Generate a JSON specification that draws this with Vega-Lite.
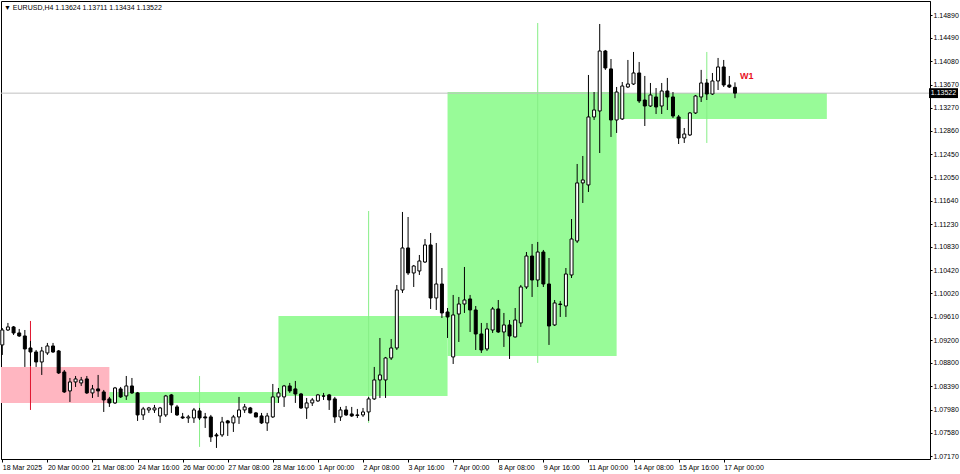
{
  "$schema": "https://vega.github.io/schema/vega-lite/v6.json",
  "width": 929,
  "height": 458,
  "autosize": {"type": "none"},
  "padding": {"left": 1, "top": 1, "right": 30, "bottom": 15},
  "background": "white",
  "title": {"text": "▼ EURUSD,H4  1.13624 1.13711 1.13434 1.13522", "anchor": "start", "frame": "group", "orient": "top", "offset": -10, "dx": 3, "font": "Liberation Sans", "fontSize": 7, "fontWeight": "normal", "color": "black"},
  "config": {
    "view": {"stroke": "black", "strokeWidth": 1},
    "scale": {"continuousPadding": 0},
    "axis": {"grid": false, "labelFont": "Liberation Sans", "labelFontSize": 7, "labelColor": "black", "tickColor": "black", "domainColor": "black", "title": null, "labelOverlap": false, "labelFlush": false, "labelBound": false}
  },
  "datasets": {
    "weeks": [
      {"x0": -0.2307, "x1": 19, "lo": 1.08099, "hi": 1.08729, "m": 5, "wl": 1.07976, "wh": 1.09534, "kind": "bear"},
      {"x0": 19, "x1": 49, "lo": 1.08099, "hi": 1.08291, "m": 35, "wl": 1.07329, "wh": 1.08571, "kind": "bull"},
      {"x0": 49, "x1": 79, "lo": 1.08221, "hi": 1.09621, "m": 65, "wl": 1.07749, "wh": 1.11459, "kind": "bull"},
      {"x0": 79, "x1": 109, "lo": 1.08921, "hi": 1.13542, "m": 95, "wl": 1.08799, "wh": 1.14750, "kind": "bull"},
      {"x0": 109, "x1": 146.3, "lo": 1.13070, "hi": 1.13525, "m": 125, "wl": 1.12650, "wh": 1.14243, "kind": "bull"}
    ],
    "candles": [
      {"i":0,"o":1.09114,"h":1.09411,"l":1.08939,"c":1.09376},
      {"i":1,"o":1.09376,"h":1.09499,"l":1.09359,"c":1.09429},
      {"i":2,"o":1.09429,"h":1.09446,"l":1.09289,"c":1.09324},
      {"i":3,"o":1.09324,"h":1.09394,"l":1.09254,"c":1.09271},
      {"i":4,"o":1.09271,"h":1.09376,"l":1.08729,"c":1.09044},
      {"i":5,"o":1.09061,"h":1.09184,"l":1.08746,"c":1.08991},
      {"i":6,"o":1.08991,"h":1.09026,"l":1.08729,"c":1.08816},
      {"i":7,"o":1.08816,"h":1.09079,"l":1.08589,"c":1.09009},
      {"i":8,"o":1.08974,"h":1.09149,"l":1.08939,"c":1.09096},
      {"i":9,"o":1.09096,"h":1.09149,"l":1.08974,"c":1.08991},
      {"i":10,"o":1.09009,"h":1.09026,"l":1.08606,"c":1.08624},
      {"i":11,"o":1.08641,"h":1.08676,"l":1.08274,"c":1.08291},
      {"i":12,"o":1.08309,"h":1.08536,"l":1.08116,"c":1.08466},
      {"i":13,"o":1.08466,"h":1.08571,"l":1.08379,"c":1.08519},
      {"i":14,"o":1.08449,"h":1.08554,"l":1.08396,"c":1.08501},
      {"i":15,"o":1.08519,"h":1.08571,"l":1.08256,"c":1.08274},
      {"i":16,"o":1.08274,"h":1.08414,"l":1.08186,"c":1.08344},
      {"i":17,"o":1.08344,"h":1.08589,"l":1.08204,"c":1.08309},
      {"i":18,"o":1.08291,"h":1.08326,"l":1.07941,"c":1.08151},
      {"i":19,"o":1.08169,"h":1.08204,"l":1.08029,"c":1.08099},
      {"i":20,"o":1.08099,"h":1.08379,"l":1.08081,"c":1.08361},
      {"i":21,"o":1.08344,"h":1.08379,"l":1.08186,"c":1.08204},
      {"i":22,"o":1.08221,"h":1.08571,"l":1.08151,"c":1.08396},
      {"i":23,"o":1.08396,"h":1.08536,"l":1.08256,"c":1.08274},
      {"i":24,"o":1.08274,"h":1.08291,"l":1.07784,"c":1.07889},
      {"i":25,"o":1.07889,"h":1.08029,"l":1.07801,"c":1.07994},
      {"i":26,"o":1.07976,"h":1.08029,"l":1.07924,"c":1.08011},
      {"i":27,"o":1.07976,"h":1.08064,"l":1.07924,"c":1.08011},
      {"i":28,"o":1.07871,"h":1.08029,"l":1.07749,"c":1.08011},
      {"i":29,"o":1.07889,"h":1.08239,"l":1.07854,"c":1.08221},
      {"i":30,"o":1.08239,"h":1.08256,"l":1.07924,"c":1.08064},
      {"i":31,"o":1.08029,"h":1.08064,"l":1.07871,"c":1.07889},
      {"i":32,"o":1.07854,"h":1.07924,"l":1.07819,"c":1.07836},
      {"i":33,"o":1.07836,"h":1.07889,"l":1.07749,"c":1.07854},
      {"i":34,"o":1.07836,"h":1.08011,"l":1.07749,"c":1.07976},
      {"i":35,"o":1.07959,"h":1.08011,"l":1.07801,"c":1.07836},
      {"i":36,"o":1.07854,"h":1.07924,"l":1.07661,"c":1.07836},
      {"i":37,"o":1.07854,"h":1.07889,"l":1.07416,"c":1.07504},
      {"i":38,"o":1.07539,"h":1.07574,"l":1.07311,"c":1.07521},
      {"i":39,"o":1.07539,"h":1.07854,"l":1.07504,"c":1.07766},
      {"i":40,"o":1.07784,"h":1.07801,"l":1.07521,"c":1.07749},
      {"i":41,"o":1.07749,"h":1.07889,"l":1.07591,"c":1.07854},
      {"i":42,"o":1.07854,"h":1.08204,"l":1.07731,"c":1.07976},
      {"i":43,"o":1.07976,"h":1.08081,"l":1.07924,"c":1.08029},
      {"i":44,"o":1.08011,"h":1.08029,"l":1.07915,"c":1.07924},
      {"i":45,"o":1.07924,"h":1.07941,"l":1.07845,"c":1.07854},
      {"i":46,"o":1.07871,"h":1.07924,"l":1.07731,"c":1.07749},
      {"i":47,"o":1.07749,"h":1.07924,"l":1.07609,"c":1.07871},
      {"i":48,"o":1.07854,"h":1.08431,"l":1.07836,"c":1.08204},
      {"i":49,"o":1.08204,"h":1.08361,"l":1.08099,"c":1.08274},
      {"i":50,"o":1.08204,"h":1.08414,"l":1.08029,"c":1.08396},
      {"i":51,"o":1.08396,"h":1.08449,"l":1.08274,"c":1.08309},
      {"i":52,"o":1.08344,"h":1.08484,"l":1.08099,"c":1.08256},
      {"i":53,"o":1.08256,"h":1.08274,"l":1.07994,"c":1.08011},
      {"i":54,"o":1.08011,"h":1.08186,"l":1.07819,"c":1.08099},
      {"i":55,"o":1.08099,"h":1.08186,"l":1.08046,"c":1.08151},
      {"i":56,"o":1.08134,"h":1.08256,"l":1.08116,"c":1.08239},
      {"i":57,"o":1.08221,"h":1.08274,"l":1.08151,"c":1.08218},
      {"i":58,"o":1.08239,"h":1.08256,"l":1.07976,"c":1.08151},
      {"i":59,"o":1.08169,"h":1.08204,"l":1.07749,"c":1.07854},
      {"i":60,"o":1.07854,"h":1.08029,"l":1.07784,"c":1.07976},
      {"i":61,"o":1.07976,"h":1.08046,"l":1.07871,"c":1.07889},
      {"i":62,"o":1.07906,"h":1.08029,"l":1.07854,"c":1.07871},
      {"i":63,"o":1.07889,"h":1.07994,"l":1.07836,"c":1.07880},
      {"i":64,"o":1.07889,"h":1.08011,"l":1.07854,"c":1.07941},
      {"i":65,"o":1.07941,"h":1.08204,"l":1.07784,"c":1.08169},
      {"i":66,"o":1.08169,"h":1.08729,"l":1.08151,"c":1.08501},
      {"i":67,"o":1.08501,"h":1.09236,"l":1.08186,"c":1.08589},
      {"i":68,"o":1.08501,"h":1.08904,"l":1.08186,"c":1.08886},
      {"i":69,"o":1.08886,"h":1.09219,"l":1.08851,"c":1.09061},
      {"i":70,"o":1.09061,"h":1.10164,"l":1.09026,"c":1.10076},
      {"i":71,"o":1.10076,"h":1.11442,"l":1.10024,"c":1.10812},
      {"i":72,"o":1.10812,"h":1.11354,"l":1.10339,"c":1.10374},
      {"i":73,"o":1.10374,"h":1.10514,"l":1.10129,"c":1.10496},
      {"i":74,"o":1.10409,"h":1.10689,"l":1.10339,"c":1.10584},
      {"i":75,"o":1.10566,"h":1.10969,"l":1.10549,"c":1.10864},
      {"i":76,"o":1.10864,"h":1.11074,"l":1.09744,"c":1.09936},
      {"i":77,"o":1.09936,"h":1.10899,"l":1.09726,"c":1.10181},
      {"i":78,"o":1.10181,"h":1.10461,"l":1.09586,"c":1.09674},
      {"i":79,"o":1.09691,"h":1.09761,"l":1.09236,"c":1.09604},
      {"i":80,"o":1.08904,"h":1.09989,"l":1.08781,"c":1.09639},
      {"i":81,"o":1.09656,"h":1.09954,"l":1.09166,"c":1.09831},
      {"i":82,"o":1.09831,"h":1.10479,"l":1.09674,"c":1.09901},
      {"i":83,"o":1.09919,"h":1.09989,"l":1.09341,"c":1.09726},
      {"i":84,"o":1.09726,"h":1.09796,"l":1.09026,"c":1.09306},
      {"i":85,"o":1.09306,"h":1.09499,"l":1.08974,"c":1.09026},
      {"i":86,"o":1.09044,"h":1.09499,"l":1.09009,"c":1.09394},
      {"i":87,"o":1.09376,"h":1.09779,"l":1.09324,"c":1.09744},
      {"i":88,"o":1.09744,"h":1.09901,"l":1.09324,"c":1.09341},
      {"i":89,"o":1.09341,"h":1.09674,"l":1.09079,"c":1.09464},
      {"i":90,"o":1.09464,"h":1.09551,"l":1.08869,"c":1.09271},
      {"i":91,"o":1.09254,"h":1.09761,"l":1.09245,"c":1.09551},
      {"i":92,"o":1.09499,"h":1.10164,"l":1.09429,"c":1.10129},
      {"i":93,"o":1.10129,"h":1.10741,"l":1.10094,"c":1.10671},
      {"i":94,"o":1.10671,"h":1.10882,"l":1.09954,"c":1.10251},
      {"i":95,"o":1.10251,"h":1.10917,"l":1.10129,"c":1.10741},
      {"i":96,"o":1.10741,"h":1.10777,"l":1.10129,"c":1.10181},
      {"i":97,"o":1.10181,"h":1.10636,"l":1.09114,"c":1.09446},
      {"i":98,"o":1.09464,"h":1.09901,"l":1.09446,"c":1.09849},
      {"i":99,"o":1.09831,"h":1.09884,"l":1.09604,"c":1.09822},
      {"i":100,"o":1.09796,"h":1.10461,"l":1.09604,"c":1.10356},
      {"i":101,"o":1.10339,"h":1.11319,"l":1.10286,"c":1.10969},
      {"i":102,"o":1.10934,"h":1.12282,"l":1.10899,"c":1.11950},
      {"i":103,"o":1.11950,"h":1.12422,"l":1.11599,"c":1.12002},
      {"i":104,"o":1.11915,"h":1.13840,"l":1.11792,"c":1.13105},
      {"i":105,"o":1.13105,"h":1.13542,"l":1.13052,"c":1.13227},
      {"i":106,"o":1.13210,"h":1.14733,"l":1.12474,"c":1.14260},
      {"i":107,"o":1.14260,"h":1.14278,"l":1.13929,"c":1.13963},
      {"i":108,"o":1.13946,"h":1.14120,"l":1.12755,"c":1.13052},
      {"i":109,"o":1.13052,"h":1.13630,"l":1.12825,"c":1.13542},
      {"i":110,"o":1.13070,"h":1.13717,"l":1.13052,"c":1.13647},
      {"i":111,"o":1.13630,"h":1.14103,"l":1.13612,"c":1.13682},
      {"i":112,"o":1.13682,"h":1.14243,"l":1.13665,"c":1.13875},
      {"i":113,"o":1.13875,"h":1.14068,"l":1.13350,"c":1.13385},
      {"i":114,"o":1.13402,"h":1.13823,"l":1.12947,"c":1.13297},
      {"i":115,"o":1.13297,"h":1.13700,"l":1.13280,"c":1.13490},
      {"i":116,"o":1.13455,"h":1.13612,"l":1.13157,"c":1.13280},
      {"i":117,"o":1.13297,"h":1.13700,"l":1.13157,"c":1.13560},
      {"i":118,"o":1.13560,"h":1.13788,"l":1.13227,"c":1.13455},
      {"i":119,"o":1.13455,"h":1.13542,"l":1.13087,"c":1.13122},
      {"i":120,"o":1.13105,"h":1.13140,"l":1.12632,"c":1.12737},
      {"i":121,"o":1.12737,"h":1.12912,"l":1.12650,"c":1.12807},
      {"i":122,"o":1.12790,"h":1.13192,"l":1.12772,"c":1.13175},
      {"i":123,"o":1.13175,"h":1.13490,"l":1.13157,"c":1.13472},
      {"i":124,"o":1.13455,"h":1.13929,"l":1.13367,"c":1.13700},
      {"i":125,"o":1.13700,"h":1.13770,"l":1.13402,"c":1.13507},
      {"i":126,"o":1.13507,"h":1.13875,"l":1.13490,"c":1.13735},
      {"i":127,"o":1.13735,"h":1.14138,"l":1.13577,"c":1.13980},
      {"i":128,"o":1.13980,"h":1.14103,"l":1.13630,"c":1.13665},
      {"i":129,"o":1.13665,"h":1.13823,"l":1.13612,"c":1.13630},
      {"i":130,"o":1.13624,"h":1.13711,"l":1.13434,"c":1.13522}
    ]
  },
  "layer": [
    {
      "data": {"name": "weeks"},
      "mark": {"type": "rect"},
      "encoding": {
        "x": {"field": "x0", "type": "quantitative", "scale": {"domain": [-0.2307, 164.603], "nice": false, "zero": false, "padding": 0},
          "axis": {"values": [0,8,16,24,32,40,48,56,64,72,80,88,96,104,112,120,128], "tickCount": 40, "labelExpr": "['18 Mar 2025','20 Mar 00:00','21 Mar 08:00','24 Mar 16:00','26 Mar 00:00','27 Mar 08:00','28 Mar 16:00','1 Apr 00:00','2 Apr 08:00','3 Apr 16:00','7 Apr 00:00','8 Apr 08:00','9 Apr 16:00','11 Apr 00:00','14 Apr 08:00','15 Apr 16:00','17 Apr 00:00'][round(datum.value/8)]", "labelAlign": "left", "labelPadding": 1, "labelOverlap": false, "labelFlush": false, "labelBound": false, "tickSize": 3, "domain": true, "orient": "bottom", "title": null}},
        "x2": {"field": "x1"},
        "y": {"field": "lo", "type": "quantitative", "scale": {"domain": [1.071175, 1.151351], "nice": false, "zero": false, "padding": 0},
          "axis": {"orient": "right", "values": [1.0717,1.0758,1.0798,1.0839,1.088,1.092,1.0961,1.1002,1.1042,1.1083,1.1123,1.1164,1.1205,1.1245,1.1286,1.1327,1.1367,1.1408,1.1449,1.1489], "tickCount": 40, "format": ".5f", "tickSize": 2, "labelPadding": 1, "labelOverlap": false, "labelFlush": false, "labelBound": false, "title": null}},
        "y2": {"field": "hi"},
        "color": {"condition": {"test": "datum.kind == 'bear'", "value": "#FFB6C1"}, "value": "#98FB98"}
      }
    },
    {
      "data": {"name": "weeks"},
      "mark": {"type": "rule", "strokeWidth": 1},
      "encoding": {
        "x": {"field": "m", "type": "quantitative"},
        "y": {"field": "wl", "type": "quantitative"},
        "y2": {"field": "wh"},
        "color": {"condition": {"test": "datum.kind == 'bear'", "value": "#E0142E"}, "value": "#86EE86"}
      }
    },
    {
      "data": {"values": [{"p": 1.13522}]},
      "mark": {"type": "rule", "color": "#C0C0C0", "strokeWidth": 1},
      "encoding": {"y": {"field": "p", "type": "quantitative"}}
    },
    {
      "data": {"name": "candles"},
      "mark": {"type": "rule", "color": "black", "strokeWidth": 1},
      "encoding": {
        "x": {"field": "i", "type": "quantitative"},
        "y": {"field": "l", "type": "quantitative"},
        "y2": {"field": "h"}
      }
    },
    {
      "data": {"name": "candles"},
      "mark": {"type": "bar", "size": 3, "stroke": "black", "strokeWidth": 1},
      "encoding": {
        "x": {"field": "i", "type": "quantitative"},
        "y": {"field": "o", "type": "quantitative"},
        "y2": {"field": "c"},
        "fill": {"condition": {"test": "datum.c >= datum.o", "value": "white"}, "value": "black"}
      }
    },
    {
      "data": {"values": [{"i": 130.9, "p": 1.13823, "t": "W1"}]},
      "mark": {"type": "text", "align": "left", "baseline": "middle", "font": "Liberation Sans", "fontSize": 9, "fontWeight": "bold", "color": "#E8101F"},
      "encoding": {
        "x": {"field": "i", "type": "quantitative"},
        "y": {"field": "p", "type": "quantitative"},
        "text": {"field": "t"}
      }
    },
    {
      "data": {"values": [{"p": 1.13522, "t": "1.13522"}]},
      "mark": {"type": "point", "filled": true, "color": "black", "opacity": 1, "size": 841, "shape": "M-1,-0.34L1,-0.34L1,0.34L-1,0.34Z"},
      "encoding": {
        "x": {"datum": 167.0, "type": "quantitative"},
        "y": {"field": "p", "type": "quantitative"}
      }
    },
    {
      "data": {"values": [{"p": 1.13522, "t": "1.13522"}]},
      "mark": {"type": "text", "align": "center", "baseline": "middle", "font": "Liberation Sans", "fontSize": 7, "color": "white"},
      "encoding": {
        "x": {"datum": 167.0, "type": "quantitative"},
        "y": {"field": "p", "type": "quantitative"},
        "text": {"field": "t"}
      }
    }
  ]
}
